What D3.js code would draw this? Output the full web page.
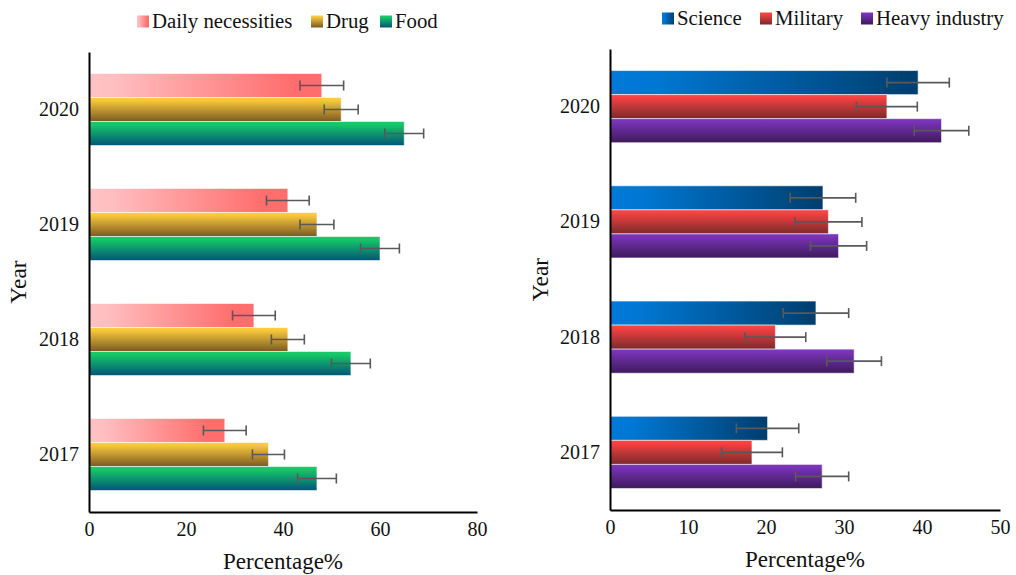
<!DOCTYPE html>
<html>
<head>
<meta charset="utf-8">
<script src="https://cdn.jsdelivr.net/npm/d3@7"></script>
<style>
  body { margin: 0; background: #fff; }
  svg { display: block; }
</style>
</head>
<body>
<svg id="chart" width="1016" height="575"></svg>
<script>
// Years, top to bottom
const years = ["2020", "2019", "2018", "2017"];

// Left panel: consumer goods (percentage, with error)
const leftSeries = ["Daily necessities", "Drug", "Food"];
const dailyValues = [48, 41, 34, 28];
const dailyErrors = [4.5, 4.4, 4.4, 4.4];
const drugValues = [52, 47, 41, 37];
const drugErrors = [3.5, 3.5, 3.4, 3.3];
const foodValues = [65, 60, 54, 47];
const foodErrors = [4, 4, 4, 4];
const leftTicks = [0, 20, 40, 60, 80];

// Right panel: industry sectors (percentage, with error)
const rightSeries = ["Science", "Military", "Heavy industry"];
const scienceValues = [39.5, 27.3, 26.4, 20.2];
const scienceErrors = [4, 4.2, 4.2, 4];
const militaryValues = [35.5, 28, 21.2, 18.2];
const militaryErrors = [3.9, 4.3, 3.9, 3.9];
const heavyValues = [42.5, 29.3, 31.3, 27.2];
const heavyErrors = [3.5, 3.6, 3.5, 3.4];
const rightTicks = [0, 10, 20, 30, 40, 50];

const FONT = "'Liberation Serif', 'Times New Roman', serif";

const svg = d3.select("#chart");
const defs = svg.append("defs");

// Gradient fills for each series
function gradient(id, horizontal, stops) {
  const g = defs.append("linearGradient").attr("id", id)
    .attr("x1", 0).attr("y1", 0)
    .attr("x2", horizontal ? 1 : 0).attr("y2", horizontal ? 0 : 1);
  stops.forEach(([o, c]) => g.append("stop").attr("offset", o).attr("stop-color", c));
}
gradient("g-daily", true, [[0, "#ffc3c5"], [0.12, "#ffbdbf"], [0.88, "#ff6d6d"], [1, "#ff6d6d"]]);
gradient("g-drug", false, [[0, "#fdd03d"], [0.15, "#f4c43a"], [1, "#7a5923"]]);
gradient("g-food", false, [[0, "#19cc66"], [0.15, "#15c468"], [1, "#035577"]]);
gradient("g-science", true, [[0, "#0079d8"], [0.15, "#0077d2"], [1, "#003e6d"]]);
gradient("g-military", false, [[0, "#ff4646"], [0.15, "#f24141"], [1, "#7a2a2a"]]);
gradient("g-heavy", false, [[0, "#7e37bf"], [0.15, "#7733b4"], [1, "#3d1a5b"]]);

function styleText(sel, size) {
  sel.style("font-family", FONT).style("font-size", size + "px").style("fill", "#111");
}

function drawPanel(cfg) {
  const x = d3.scaleLinear().domain(cfg.domain).range([cfg.x0, cfg.x1]);
  const y = d3.scaleBand().domain(years).range([cfg.y0, cfg.y1])
    .paddingInner(0.374).paddingOuter(0.187);
  const inner = d3.scaleBand().domain(cfg.series.map(s => s.name)).range([0, y.bandwidth()]);

  const g = svg.append("g");

  cfg.series.forEach(s => {
    const rows = years.map((yr, i) => ({ yr, v: s.values[i], e: s.errors[i] }));
    const sg = g.append("g");
    sg.selectAll("rect").data(rows).join("rect")
      .attr("x", x(0))
      .attr("y", d => y(d.yr) + inner(s.name))
      .attr("width", d => x(d.v) - x(0))
      .attr("height", inner.bandwidth())
      .attr("fill", `url(#${s.fill})`)
      .attr("stroke", "rgba(255,255,255,0.55)")
      .attr("stroke-width", 1);

    const eg = sg.selectAll("g.err").data(rows).join("g").attr("class", "err")
      .attr("stroke", "#595959").attr("stroke-width", 1.6);
    const cy = d => y(d.yr) + inner(s.name) + inner.bandwidth() / 2;
    eg.append("line")
      .attr("x1", d => x(d.v - d.e)).attr("x2", d => x(d.v + d.e))
      .attr("y1", cy).attr("y2", cy);
    eg.append("line")
      .attr("x1", d => x(d.v - d.e)).attr("x2", d => x(d.v - d.e))
      .attr("y1", d => cy(d) - 5).attr("y2", d => cy(d) + 5);
    eg.append("line")
      .attr("x1", d => x(d.v + d.e)).attr("x2", d => x(d.v + d.e))
      .attr("y1", d => cy(d) - 5).attr("y2", d => cy(d) + 5);
  });

  // Axes
  const xAxis = g.append("g").attr("transform", `translate(0,${cfg.y1})`)
    .call(d3.axisBottom(x).tickValues(cfg.ticks).tickSize(0).tickPadding(10).tickFormat(d3.format("d")));
  xAxis.select(".domain").attr("stroke", "#000").attr("stroke-width", 2);
  styleText(xAxis.selectAll("text"), 20);

  const yAxis = g.append("g").attr("transform", `translate(${cfg.x0},0)`)
    .call(d3.axisLeft(y).tickSize(0).tickPadding(10));
  yAxis.select(".domain").attr("stroke", "#000").attr("stroke-width", 2);
  styleText(yAxis.selectAll("text"), 20);

  // Axis titles
  styleText(g.append("text")
    .attr("x", (cfg.x0 + cfg.x1) / 2).attr("y", cfg.y1 + 57)
    .attr("text-anchor", "middle")
    .text("Percentage%"), 23);
  styleText(g.append("text")
    .attr("transform", `translate(${cfg.yTitleX},${(cfg.y0 + cfg.y1) / 2}) rotate(-90)`)
    .attr("text-anchor", "middle")
    .text("Year"), 23.5);

  // Legend
  const lg = g.append("g");
  cfg.series.forEach((s, i) => {
    const lx = cfg.legendX[i];
    lg.append("rect").attr("x", lx).attr("y", cfg.legendY - 12)
      .attr("width", 12).attr("height", 12).attr("fill", `url(#${s.fill})`);
    styleText(lg.append("text").attr("x", lx + 15).attr("y", cfg.legendY).text(s.name), 20.8);
  });
}

drawPanel({
  domain: [0, 80], ticks: leftTicks,
  x0: 89, x1: 477, y0: 52, y1: 512,
  yTitleX: 26,
  legendX: [137, 311, 380], legendY: 27.5,
  series: [
    { name: leftSeries[0], values: dailyValues, errors: dailyErrors, fill: "g-daily" },
    { name: leftSeries[1], values: drugValues, errors: drugErrors, fill: "g-drug" },
    { name: leftSeries[2], values: foodValues, errors: foodErrors, fill: "g-food" }
  ]
});

drawPanel({
  domain: [0, 50], ticks: rightTicks,
  x0: 610, x1: 1000, y0: 49, y1: 510,
  yTitleX: 548,
  legendX: [662, 760, 861], legendY: 24.5,
  series: [
    { name: rightSeries[0], values: scienceValues, errors: scienceErrors, fill: "g-science" },
    { name: rightSeries[1], values: militaryValues, errors: militaryErrors, fill: "g-military" },
    { name: rightSeries[2], values: heavyValues, errors: heavyErrors, fill: "g-heavy" }
  ]
});
</script>
</body>
</html>
